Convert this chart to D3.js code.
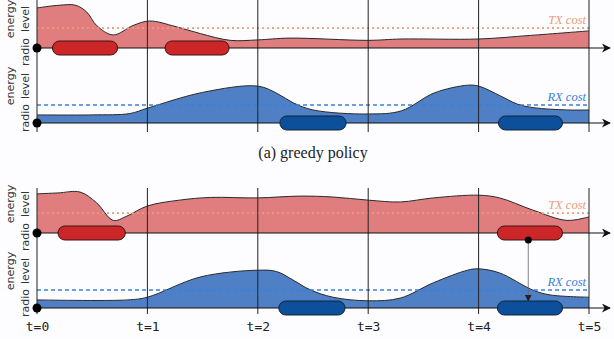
<!DOCTYPE html>
<html><head><meta charset="utf-8">
<script src="https://cdn.jsdelivr.net/npm/d3@7"></script>
<style>html,body{margin:0;padding:0;background:#fdfdff;}svg{display:block;}</style>
</head><body>
<script>
// ---- data ----
const timeTicks = [0, 1, 2, 3, 4, 5];
const tickLabels = ["t=0", "t=1", "t=2", "t=3", "t=4", "t=5"];
const txCost = 0.44;
const rxCost = 0.4;
// (a) greedy policy: energy curves [t, level]
const greedyTX = [[0,0.89],[0.2,0.95],[0.35,0.95],[0.45,0.8],[0.54,0.5],[0.69,0.29],[0.87,0.5],[1.02,0.6],[1.25,0.48],[1.48,0.32],[1.75,0.17],[2.0,0.18],[2.29,0.22],[3.0,0.17],[3.3,0.2],[4.0,0.2],[4.47,0.28],[5,0.38]];
const greedyRX = [[0,0.18],[0.5,0.18],[0.84,0.21],[1.0,0.33],[1.5,0.68],[2.0,0.82],[2.18,0.65],[2.32,0.45],[2.5,0.29],[3.0,0.2],[3.3,0.27],[3.6,0.67],[3.9,0.84],[4.0,0.82],[4.2,0.6],[4.35,0.42],[4.5,0.34],[4.8,0.29],[5,0.29]];
const greedyTXbursts = [[0.14,0.73],[1.16,1.74]];
const greedyRXbursts = [[2.2,2.8],[4.18,4.76]];
// (b) second policy
const policyTX = [[0,0.87],[0.19,0.89],[0.39,0.91],[0.54,0.67],[0.69,0.28],[0.81,0.37],[1.0,0.6],[1.29,0.73],[1.57,0.79],[2.0,0.78],[2.38,0.82],[2.68,0.8],[3.0,0.73],[3.29,0.69],[3.59,0.78],[4.0,0.84],[4.19,0.78],[4.49,0.51],[4.8,0.28],[5,0.36]];
const policyRX = [[0,0.18],[0.82,0.18],[1.0,0.24],[1.48,0.69],[2.0,0.84],[2.17,0.81],[2.32,0.62],[2.47,0.41],[2.68,0.24],[3.0,0.16],[3.29,0.22],[3.59,0.56],[3.9,0.84],[4.0,0.87],[4.19,0.78],[4.49,0.4],[4.65,0.29],[5,0.24]];
const policyTXbursts = [[0.19,0.8],[4.17,4.76]];
const policyRXbursts = [[2.19,2.79],[4.17,4.76]];
const handoffT = 4.45;
const caption = "(a) greedy policy";

// ---- drawing ----
const W = 614, H = 339;
const svg = d3.select("body").append("svg").attr("width", W).attr("height", H);
svg.append("rect").attr("width", W).attr("height", H).attr("fill", "#fdfdff");
const defs = svg.append("defs");
defs.append("marker").attr("id","arr").attr("viewBox","0 0 10 10").attr("refX",9).attr("refY",5)
  .attr("markerWidth",12).attr("markerHeight",9).attr("markerUnits","userSpaceOnUse").attr("orient","auto")
  .append("path").attr("d","M0,0 L10,5 L0,10 L3,5 Z").attr("fill","#111");
defs.append("marker").attr("id","arrs").attr("viewBox","0 0 10 10").attr("refX",9).attr("refY",5)
  .attr("markerWidth",7).attr("markerHeight",7).attr("markerUnits","userSpaceOnUse").attr("orient","auto")
  .append("path").attr("d","M0,0 L10,5 L0,10 Z").attr("fill","#222");

const x = d3.scaleLinear().domain([0, 5]).range([37, 589]);
const BAND = 45;
const COL = {
  tx: {fill:"#df7d7f", pill:"#cc2629", pillStroke:"#3b1414", cost:"#ee9a78", label:"TX cost", dash:"2,3", w:1.8},
  rx: {fill:"#4f80c5", pill:"#0c4f9b", pillStroke:"#14243a", cost:"#3a80d8", label:"RX cost", dash:"4,3", w:1.4}
};
const curve = d3.curveCatmullRom.alpha(0.5);

function band(baseline, data, bursts, cost, c) {
  const y = d3.scaleLinear().domain([0, 1]).range([baseline, baseline - BAND]);
  const area = d3.area().x(d => x(d[0])).y0(y(0)).y1(d => y(d[1])).curve(curve);
  const line = d3.line().x(d => x(d[0])).y(d => y(d[1])).curve(curve);
  svg.append("path").attr("d", area(data)).attr("fill", c.fill);
  svg.append("path").attr("d", line(data)).attr("fill", "none").attr("stroke", "#2a2a2a").attr("stroke-width", 1);
  svg.append("line").attr("x1", x(0)).attr("x2", x(5)).attr("y1", y(cost)).attr("y2", y(cost))
    .attr("stroke", c.cost).attr("stroke-width", c.w).attr("stroke-dasharray", c.dash);
  svg.append("text").attr("x", x(5) - 3).attr("y", y(cost) - 4).attr("text-anchor", "end")
    .attr("font-family", "Liberation Serif, serif").attr("font-style", "italic").attr("font-size", 12.5)
    .attr("fill", c.cost).text(c.label);
  return y;
}
function axisAndPills(baseline, bursts, c) {
  svg.append("line").attr("x1", x(0)).attr("x2", 610).attr("y1", baseline).attr("y2", baseline)
    .attr("stroke", "#111").attr("stroke-width", 1.1).attr("marker-end", "url(#arr)");
  svg.selectAll(null).data(bursts).enter().append("rect")
    .attr("x", d => x(d[0])).attr("width", d => x(d[1]) - x(d[0]))
    .attr("y", baseline - 7).attr("height", 14).attr("rx", 7)
    .attr("fill", c.pill).attr("stroke", c.pillStroke).attr("stroke-width", 1);
  svg.append("circle").attr("cx", x(0)).attr("cy", baseline).attr("r", 4.5).attr("fill", "#000");
}
function vlines(y0, y1) {
  svg.selectAll(null).data(timeTicks).enter().append("line")
    .attr("x1", d => x(d)).attr("x2", d => x(d)).attr("y1", y0).attr("y2", y1)
    .attr("stroke", "#222").attr("stroke-width", 1);
}
function ylabels(yEnergy, yRadio) {
  const g = svg.append("g").attr("font-family", "DejaVu Sans, sans-serif").attr("font-size", 11).attr("fill", "#333").attr("text-anchor", "middle");
  g.append("text").attr("transform", `translate(14,${yEnergy}) rotate(-90)`).text("energy");
  g.append("text").attr("transform", `translate(29,${yEnergy}) rotate(-90)`).text("level");
  g.append("text").attr("transform", `translate(29,${yRadio}) rotate(-90)`).text("radio");
}

// panel (a)
band(48, greedyTX, greedyTXbursts, txCost, COL.tx);
band(123, greedyRX, greedyRXbursts, rxCost, COL.rx);
vlines(0, 132);
axisAndPills(48, greedyTXbursts, COL.tx);
axisAndPills(123, greedyRXbursts, COL.rx);
ylabels(19, 52); ylabels(86, 118);

svg.append("text").attr("x", 313).attr("y", 158).attr("text-anchor", "middle")
  .attr("font-family", "Liberation Serif, serif").attr("font-size", 16).attr("fill", "#222").text(caption);

// panel (b)
band(233, policyTX, policyTXbursts, txCost, COL.tx);
band(308, policyRX, policyRXbursts, rxCost, COL.rx);
vlines(188, 314);
axisAndPills(233, policyTXbursts, COL.tx);
svg.append("line").attr("x1", x(handoffT)).attr("x2", x(handoffT)).attr("y1", 240).attr("y2", 301)
  .attr("stroke", "#666").attr("stroke-width", 0.8).attr("marker-end", "url(#arrs)");
axisAndPills(308, policyRXbursts, COL.rx);
svg.append("circle").attr("cx", x(handoffT)).attr("cy", 240).attr("r", 3.5).attr("fill", "#000");
ylabels(204, 237); ylabels(271, 303);

// time axis
const axis = d3.axisBottom(x).tickValues(timeTicks).tickFormat((d, i) => tickLabels[i]).tickSize(0).tickPadding(0);
const ag = svg.append("g").attr("transform", "translate(0,322)").call(axis);
ag.select(".domain").remove();
ag.selectAll("text").attr("font-family", "DejaVu Sans Mono, monospace").attr("font-size", 13).attr("fill", "#222").attr("dy", "0.71em");
</script>
</body></html>
